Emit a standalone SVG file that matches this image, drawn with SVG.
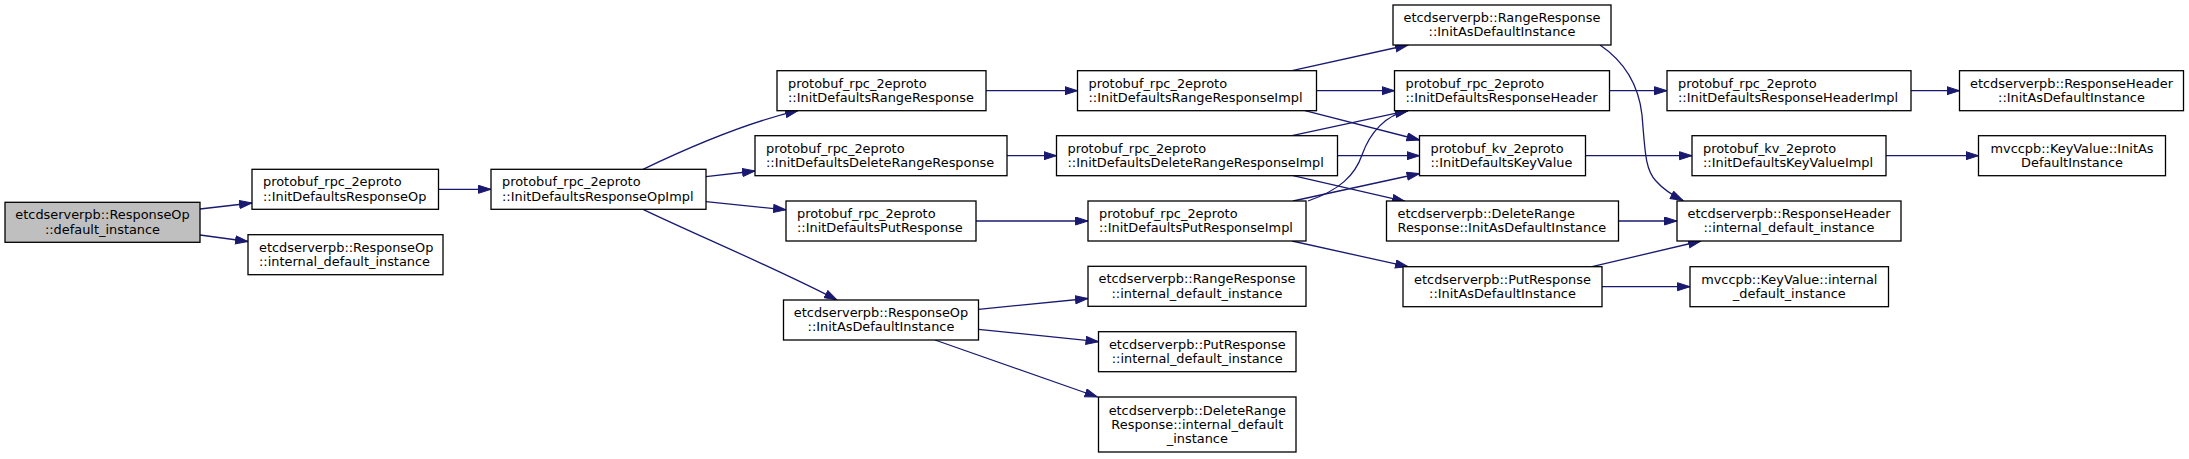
<svg xmlns="http://www.w3.org/2000/svg" width="2189" height="459" viewBox="0 0 2189 459">
<style>
rect{fill:#fff;stroke:#000;stroke-width:1.3}
.root rect{fill:#bfbfbf}
text{font-family:"DejaVu Sans","Liberation Sans",sans-serif;font-size:12.9px;fill:#000}
.c text{text-anchor:middle}
#edges path{fill:none;stroke:#191970;stroke-width:1.3;marker-end:url(#ah)}
</style>
<defs>
<marker id="ah" markerUnits="userSpaceOnUse" viewBox="0 0 14 10" markerWidth="14" markerHeight="10" refX="13" refY="4.5" orient="auto">
<path d="M0.5,0.5 L13,4.5 L0.5,8.5 z" fill="#191970" stroke="#191970" stroke-width="1"/>
</marker>
</defs>
<rect x="0" y="0" width="2189" height="459" style="fill:#fff;stroke:none"/>
<g id="edges">
<path d="M200,209 L252,203"/>
<path d="M200,235 L248,241.5"/>
<path d="M438.5,189.3 L491,189.3"/>
<path d="M643,169.3 C675,154 740,124 798,110.7"/>
<path d="M706,176.7 L755,171"/>
<path d="M706,201.7 L786,209.8"/>
<path d="M643,209.3 C690,232 780,270 837,300"/>
<path d="M986,90.7 L1077.5,90.7"/>
<path d="M1007,155.7 L1056.5,155.7"/>
<path d="M976,221 L1088,221"/>
<path d="M1292,70.7 L1408,45"/>
<path d="M1316.5,90.7 L1394.5,90.7"/>
<path d="M1305,110.7 L1419.5,140"/>
<path d="M1292,135.7 L1408,110.7"/>
<path d="M1337.5,155.7 L1419.5,155.7"/>
<path d="M1293,175.7 L1405,201.3"/>
<path d="M1308,201 C1340,190 1355,175 1362,155 C1370,132 1386,115 1408,110.7"/>
<path d="M1293,201 L1419.5,173.5"/>
<path d="M1292,241 L1408,266.7"/>
<path d="M1609.5,90.7 L1667,90.7"/>
<path d="M1585.5,155.7 L1692,155.7"/>
<path d="M1618.5,221 L1677,221"/>
<path d="M1600,45 C1628,64 1639,88 1642,115 C1645,150 1645,170 1656,181 C1663,189 1672,195 1683,200.5"/>
<path d="M1592,266.7 L1701,241"/>
<path d="M1602,286.7 L1690,286.7"/>
<path d="M1911,90.7 L1959.5,90.7"/>
<path d="M1886,155.7 L1978.5,155.7"/>
<path d="M978.5,309.3 L1088,298.5"/>
<path d="M978.5,329.3 L1098.5,341.7"/>
<path d="M935,340 L1097.5,397"/>
</g>
<g id="n0" class="root c"><rect x="5" y="202.3" width="195" height="40"/><text x="102.5" y="219.3">etcdserverpb::ResponseOp</text><text x="102.5" y="233.6">::default_instance</text></g>
<g id="n1"><rect x="252" y="169.3" width="186.5" height="40"/><text x="263" y="186.3">protobuf_rpc_2eproto</text><text x="263" y="200.6">::InitDefaultsResponseOp</text></g>
<g id="n2"><rect x="248" y="234.7" width="195" height="40"/><text x="259" y="251.7">etcdserverpb::ResponseOp</text><text x="259" y="266">::internal_default_instance</text></g>
<g id="n3"><rect x="491" y="169.3" width="215" height="40"/><text x="502" y="186.3">protobuf_rpc_2eproto</text><text x="502" y="200.6">::InitDefaultsResponseOpImpl</text></g>
<g id="n4"><rect x="777" y="70.7" width="209" height="40"/><text x="788" y="87.7">protobuf_rpc_2eproto</text><text x="788" y="102">::InitDefaultsRangeResponse</text></g>
<g id="n5"><rect x="755" y="135.7" width="252" height="40"/><text x="766" y="152.7">protobuf_rpc_2eproto</text><text x="766" y="167">::InitDefaultsDeleteRangeResponse</text></g>
<g id="n6"><rect x="786" y="201" width="190" height="40"/><text x="797" y="218">protobuf_rpc_2eproto</text><text x="797" y="232.3">::InitDefaultsPutResponse</text></g>
<g id="n7" class="c"><rect x="783.5" y="300" width="195" height="40"/><text x="881" y="317">etcdserverpb::ResponseOp</text><text x="881" y="331.3">::InitAsDefaultInstance</text></g>
<g id="n8"><rect x="1077.5" y="70.7" width="239" height="40"/><text x="1088.5" y="87.7">protobuf_rpc_2eproto</text><text x="1088.5" y="102">::InitDefaultsRangeResponseImpl</text></g>
<g id="n9"><rect x="1056.5" y="135.7" width="281" height="40"/><text x="1067.5" y="152.7">protobuf_rpc_2eproto</text><text x="1067.5" y="167">::InitDefaultsDeleteRangeResponseImpl</text></g>
<g id="n10"><rect x="1088" y="201" width="218" height="40"/><text x="1099" y="218">protobuf_rpc_2eproto</text><text x="1099" y="232.3">::InitDefaultsPutResponseImpl</text></g>
<g id="n11" class="c"><rect x="1088" y="266.3" width="218" height="40"/><text x="1197" y="283.3">etcdserverpb::RangeResponse</text><text x="1197" y="297.6">::internal_default_instance</text></g>
<g id="n12" class="c"><rect x="1098.5" y="331.7" width="197.5" height="40"/><text x="1197.3" y="348.7">etcdserverpb::PutResponse</text><text x="1197.3" y="363">::internal_default_instance</text></g>
<g id="n13" class="c"><rect x="1098.5" y="397" width="197.5" height="55"/><text x="1197.3" y="414.7">etcdserverpb::DeleteRange</text><text x="1197.3" y="429">Response::internal_default</text><text x="1197.3" y="443.3">_instance</text></g>
<g id="n14" class="c"><rect x="1393" y="5" width="218" height="40"/><text x="1502" y="22">etcdserverpb::RangeResponse</text><text x="1502" y="36.3">::InitAsDefaultInstance</text></g>
<g id="n15"><rect x="1394.5" y="70.7" width="215" height="40"/><text x="1405.5" y="87.7">protobuf_rpc_2eproto</text><text x="1405.5" y="102">::InitDefaultsResponseHeader</text></g>
<g id="n16"><rect x="1419.5" y="135.7" width="166" height="40"/><text x="1430.5" y="152.7">protobuf_kv_2eproto</text><text x="1430.5" y="167">::InitDefaultsKeyValue</text></g>
<g id="n17"><rect x="1386.5" y="201" width="232" height="40"/><text x="1397.5" y="218">etcdserverpb::DeleteRange</text><text x="1397.5" y="232.3">Response::InitAsDefaultInstance</text></g>
<g id="n18" class="c"><rect x="1403" y="266.7" width="199" height="40"/><text x="1502.5" y="283.7">etcdserverpb::PutResponse</text><text x="1502.5" y="298">::InitAsDefaultInstance</text></g>
<g id="n19"><rect x="1667" y="70.7" width="244" height="40"/><text x="1678" y="87.7">protobuf_rpc_2eproto</text><text x="1678" y="102">::InitDefaultsResponseHeaderImpl</text></g>
<g id="n20"><rect x="1692" y="135.7" width="194" height="40"/><text x="1703" y="152.7">protobuf_kv_2eproto</text><text x="1703" y="167">::InitDefaultsKeyValueImpl</text></g>
<g id="n21" class="c"><rect x="1677" y="201" width="224" height="40"/><text x="1789" y="218">etcdserverpb::ResponseHeader</text><text x="1789" y="232.3">::internal_default_instance</text></g>
<g id="n22" class="c"><rect x="1690" y="266.7" width="198.5" height="40"/><text x="1789.3" y="283.7">mvccpb::KeyValue::internal</text><text x="1789.3" y="298">_default_instance</text></g>
<g id="n23" class="c"><rect x="1959.5" y="70.7" width="224" height="40"/><text x="2071.5" y="87.7">etcdserverpb::ResponseHeader</text><text x="2071.5" y="102">::InitAsDefaultInstance</text></g>
<g id="n24" class="c"><rect x="1978.5" y="135.7" width="187" height="40"/><text x="2072" y="152.7">mvccpb::KeyValue::InitAs</text><text x="2072" y="167">DefaultInstance</text></g>
</svg>
